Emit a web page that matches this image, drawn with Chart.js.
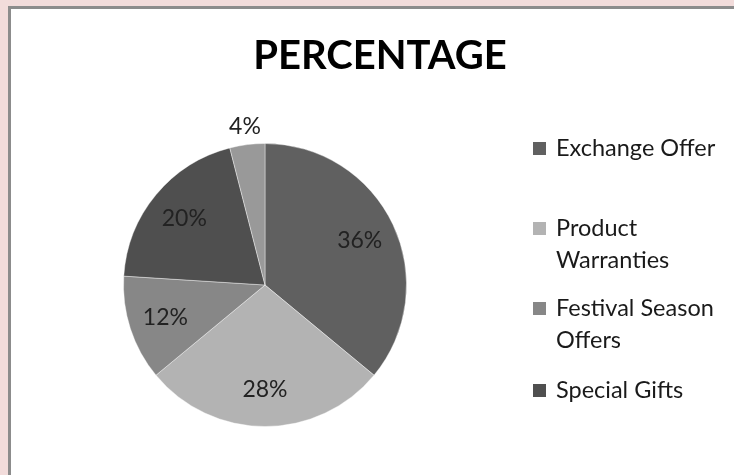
<!DOCTYPE html>
<html>
<head>
<meta charset="utf-8">
<script src="https://cdn.jsdelivr.net/npm/chart.js@4.4.1/dist/chart.umd.min.js"></script>
<style>
  html, body { margin: 0; padding: 0; background: #f2dcdb; overflow: hidden; }
  #panel {
    position: absolute; left: 8px; top: 6px; width: 760px; height: 500px;
    background: #fff; border-left: 3px solid #8c8c8c; border-top: 3px solid #8c8c8c;
  }
  #pie-chart { position: absolute; left: 0; top: 0; }
</style>
</head>
<body>
<div id="panel"></div>
<canvas id="pie-chart" width="734" height="475"></canvas>
<script>
const categories = ['Exchange Offer', 'Product Warranties', 'Festival Season Offers', 'Special Gifts', 'Others'];
const percentages = [36, 28, 12, 20, 4];
const sliceColors = ['#606060', '#b3b3b3', '#878787', '#4f4f4f', '#999999'];
const legendCount = 4; // only the first four entries are listed

const FONT = 'Lato, sans-serif';

// title, slice labels and the wrapped legend on the right
const textPlugin = {
  id: 'pieText',
  afterDraw(chart) {
    const ctx = chart.ctx;
    ctx.save();

    ctx.fillStyle = '#000';
    ctx.font = 'bold 40px ' + FONT;
    ctx.textAlign = 'center';
    ctx.textBaseline = 'middle';
    ctx.fillText('PERCENTAGE', 380, 56);

    const meta = chart.getDatasetMeta(0);
    ctx.font = '23px ' + FONT;
    ctx.fillStyle = '#222';
    meta.data.forEach((arc, i) => {
      const p = arc.getProps(['x', 'y', 'startAngle', 'endAngle', 'outerRadius'], true);
      const mid = (p.startAngle + p.endAngle) / 2;
      const k = percentages[i] < 5 ? 1.13 : 0.74;
      const r = p.outerRadius * k;
      ctx.fillText(percentages[i] + '%', p.x + Math.cos(mid) * r, p.y + Math.sin(mid) * r);
    });

    // legend
    ctx.textAlign = 'left';
    ctx.font = '23.5px ' + FONT;
    const rows = [148, 228, 308, 390];
    for (let i = 0; i < legendCount; i++) {
      const y = rows[i];
      ctx.fillStyle = sliceColors[i];
      ctx.fillRect(533, y - 6, 13, 13);
      ctx.fillStyle = '#1a1a1a';
      const words = categories[i].split(' ');
      let line = '', ly = y;
      words.forEach(w => {
        const test = line ? line + ' ' + w : w;
        if (line && ctx.measureText(test).width > 172) {
          ctx.fillText(line, 556, ly);
          line = w;
          ly += 32;
        } else {
          line = test;
        }
      });
      ctx.fillText(line, 556, ly);
    }
    ctx.restore();
  }
};

new Chart(document.getElementById('pie-chart'), {
  type: 'pie',
  data: {
    labels: categories,
    datasets: [{
      data: percentages,
      backgroundColor: sliceColors,
      borderColor: 'rgba(255,255,255,0.4)',
      borderWidth: 1
    }]
  },
  options: {
    responsive: false,
    animation: false,
    devicePixelRatio: 1,
    layout: { padding: { left: 123, right: 327, top: 143, bottom: 48 } },
    plugins: {
      legend: { display: false },
      tooltip: { enabled: false }
    }
  },
  plugins: [textPlugin]
});
</script>
</body>
</html>
